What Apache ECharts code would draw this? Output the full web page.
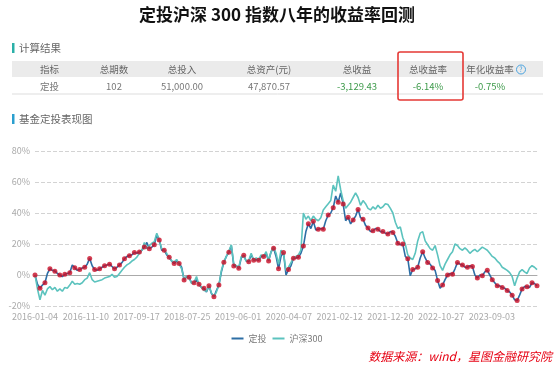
<!DOCTYPE html>
<html><head><meta charset="utf-8">
<script src="https://cdn.jsdelivr.net/npm/echarts@6/dist/echarts.min.js"></script>
<style>html,body{margin:0;padding:0;background:#fff}#c{width:554px;height:365px}</style>
</head><body><div id="c"></div>
<script>
const tickLabels = ['2016-01-04','2016-11-10','2017-09-17','2018-07-25','2019-06-01','2020-04-07','2021-02-12','2021-12-20','2022-10-27','2023-09-03'];
const legendNames = ['定投','沪深300'];
const tableHeaders = ['指标','总期数','总投入','总资产(元)','总收益','总收益率','年化收益率'];
const tableRow = ['定投','102','51,000.00','47,870.57','-3,129.43','-6.14%','-0.75%'];
// 定投 return (%), half-period samples; even samples are the 102 investment dates
const dtVals = [0,-6,-8.5,-6.5,-5,1,4,3,2.5,1,0,-1,0.5,1,1.5,6.5,4.7,3,3.5,4.5,
5,7,10.7,6,3.5,3,4,5,6,6.5,7,5.5,4,5,6.5,8,10.5,12,12.5,13,
14.5,14,14.8,16,18,21,17,18,19.5,26,22.6,16,16,13,11.4,9,7.5,9,7.5,5,
-3.2,-1,-1.5,-5,-5,-3,-6,-8,-8.6,-11,-7,-12,-14,-10,-6.5,2,8.2,12,14.6,19,
5.8,6,4.3,11,12.7,9,8.5,13,9.5,10,9.5,12,12,14,9,15,17.2,12,4,12,
14.5,0,3.5,6,10.8,11,11.5,14,18.7,28,33,30,34.6,29,29.5,30,29.5,35,38.7,40,
43.4,51,46.9,53,45.8,35,37.2,33,35.5,38,42.3,37,36,32,30.3,28,28.5,30,29.5,28,
28,27,26.5,28,27.5,25,20.5,19.5,20,12,10.5,-0.5,3.5,4,5,11,15,11,8,7,
4.5,3,-3.5,-8.5,-6.5,-3,0,1,0.5,4,8,7,6.5,5,5,6,5.5,0,-2,0,
-0.5,2,3,0,-3,-5,-7,-7,-8,-8.5,-10,-11,-13,-16,-16.5,-13,-9,-7.5,-7.5,-8,
-5,-5.5,-7];
// 沪深300 return (%), same sample dates
const hsVals = [0,-9,-16,-10,-13,-9,-7.5,-9.5,-8,-10.5,-9,-10.5,-8,-8.5,-6.5,-4,-6,-5.5,-6,-5,
-3,-2,1.5,-3,-4.5,-4,-3.5,-3,-2,-1.5,-1,0.5,-1.5,-1,1,3,5,6.5,7.5,9,
10,11.5,14,16,21,17,19,20.5,21.5,27,22.5,17,16,14,11,9,8.5,10,7,4,
-3,-1,-2,-5.5,-4.5,-1,-6.5,-8,-10,-10.5,-7,-11.5,-14,-11,-6.5,3,8.5,12,15.5,19.5,
7,6,5,12,12,9,9.5,14,9.5,11,10,13,12,15,9.5,15,18,14,7,16,
14,3,5,8,11,12,13,16,40,36,38,35,38,36,35,37,42,44,46,48,
58,54,64,55,48,43,45,47,50,53,50,45,48,46,43,42,44,42.5,45,43,
44,46,45.5,43,40,34,30,31,24,20,13,11,10,14,22,27,28,22,19.5,17,
16,19,13,6,3,7,10,13,15,20,19,17,16,17.5,16,14,15.5,16.5,15,16.5,
18,17,16,14,12,11,9,7.5,5,4,3,1.5,-1,-7,-2,2,3.5,2,1,4.5,
6,5,3.5];

const LABEL_STEP = 20.43; // samples per 311-day label interval
const N = dtVals.length - 1;

const colX = [49.5,114,182,269,357,428,490];
const green = '#3d9a4a';
const font = '"Noto Sans CJK SC","Noto Sans",sans-serif';

const graphics = [];
graphics.push({type:'text', left:'center', top:6, style:{text:'定投沪深 300 指数八年的收益率回测', font:'bold 17px '+font, fill:'#111'}});
graphics.push({type:'rect', shape:{x:12,y:43,width:2.5,height:10}, style:{fill:'#2bb0a8'}});
graphics.push({type:'text', x:19, y:48, style:{text:'计算结果', font:'10.5px '+font, fill:'#666', textVerticalAlign:'middle'}});
graphics.push({type:'rect', shape:{x:12,y:61,width:531,height:16}, style:{fill:'#ebebeb'}});
graphics.push({type:'line', shape:{x1:12,y1:94,x2:543,y2:94}, style:{stroke:'#ddd', lineWidth:1}});
tableHeaders.forEach((h,i)=>{
  graphics.push({type:'text', x:colX[i], y:69.5, style:{text:h, font:'9.5px '+font, fill:'#666', textAlign:'center', textVerticalAlign:'middle'}});
});
tableRow.forEach((v,i)=>{
  graphics.push({type:'text', x:colX[i], y:86, style:{text:v, font:'9.5px '+font, fill: i>=4?green:'#777', textAlign:'center', textVerticalAlign:'middle'}});
});
graphics.push({type:'circle', shape:{cx:521,cy:69.5,r:4.5}, style:{fill:'none', stroke:'#4aa3df', lineWidth:1}});
graphics.push({type:'text', x:521, y:69.8, style:{text:'?', font:'7px '+font, fill:'#4aa3df', textAlign:'center', textVerticalAlign:'middle'}});
graphics.push({type:'rect', shape:{x:398,y:52,width:65,height:48,r:2}, style:{fill:'none', stroke:'#e53935', lineWidth:1.6}});
graphics.push({type:'rect', shape:{x:12,y:114,width:2.5,height:10}, style:{fill:'#2a9fcf'}});
graphics.push({type:'text', x:19, y:119, style:{text:'基金定投表现图', font:'10.5px '+font, fill:'#666', textVerticalAlign:'middle'}});
graphics.push({type:'text', x:552, y:356, style:{text:'数据来源：wind，星图金融研究院', font:'italic 12px '+font, fill:'#e60012', textAlign:'right', textVerticalAlign:'middle'}});

const chart = echarts.init(document.getElementById('c'), null, {renderer:'canvas'});
chart.setOption({
  animation:false,
  backgroundColor:'#fff',
  graphic: graphics,
  grid:{left:35, right:17, top:151, bottom:59},
  legend:{data:legendNames, top:329, left:'center', icon:'rect', itemWidth:12, itemHeight:2, itemGap:6,
    textStyle:{color:'#777', fontSize:9, fontFamily:font}},
  xAxis:[
    {type:'value', min:0, max:N, position:'bottom', axisLine:{show:true, onZero:true, lineStyle:{color:'#aaa', width:1}},
     axisTick:{show:false}, axisLabel:{show:false}, splitLine:{show:false}},
    {type:'value', min:0, max:N, interval:LABEL_STEP, position:'bottom', axisLine:{show:false, onZero:false},
     axisTick:{show:false}, splitLine:{show:false},
     axisLabel:{color:'#aaa', fontSize:9, margin:6, fontFamily:font,
       formatter:v=>{const k=Math.round(v/LABEL_STEP); return Math.abs(v-k*LABEL_STEP)<0.5 ? (tickLabels[k]||'') : '';}}}
  ],
  yAxis:{type:'value', min:-20, max:80, interval:20, axisLine:{show:false}, axisTick:{show:false},
    axisLabel:{formatter:'{value}%', color:'#aaa', fontSize:9, margin:5, fontFamily:font},
    splitLine:{lineStyle:{type:'dashed', color:'#d3d3d3', width:1}}},
  series:[
    {name:'定投', type:'line', xAxisIndex:0, data:dtVals.map((v,i)=>[i,v]), showSymbol:false, symbol:'none',
     lineStyle:{color:'#2d6ea5', width:1.6}, itemStyle:{color:'#2d6ea5'}, z:2},
    {name:'沪深300', type:'line', xAxisIndex:0, data:hsVals.map((v,i)=>[i,v]), showSymbol:false, symbol:'none',
     lineStyle:{color:'#5cc3be', width:1.6}, itemStyle:{color:'#5cc3be'}, z:3},
    {name:'投资点', type:'scatter', xAxisIndex:0, data:dtVals.map((v,i)=>[i,v]).filter((p,i)=>i%2===0),
     symbolSize:5, itemStyle:{color:'#c80d25'}, z:4}
  ]
});
</script></body></html>
